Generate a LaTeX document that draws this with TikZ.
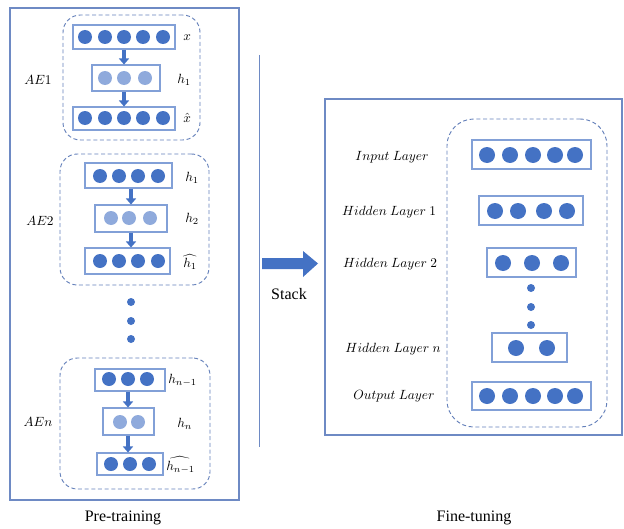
\documentclass[tikz,border=0pt]{standalone}
\usepackage{fontspec}
\setmainfont{Liberation Serif}
\usetikzlibrary{fit,arrows.meta}
\definecolor{dkblue}{RGB}{68,114,196}
\definecolor{ltblue}{RGB}{143,170,220}
\definecolor{boxblue}{RGB}{130,160,215}
\definecolor{outerblue}{RGB}{110,138,196}
\definecolor{dashblue}{RGB}{100,128,186}
\begin{document}
\begin{tikzpicture}[x=0.75pt,y=-0.75pt,
  dk/.style={circle,fill=dkblue,minimum size=10.5pt,inner sep=0pt},
  dkb/.style={circle,fill=dkblue,minimum size=12pt,inner sep=0pt},
  lt/.style={circle,fill=ltblue,minimum size=10.5pt,inner sep=0pt},
  sdot/.style={circle,fill=dkblue,minimum size=6pt,inner sep=0pt},
  lbox/.style={draw=boxblue,line width=0.8pt,inner sep=0pt},
  dbox/.style={draw=dashblue,dashed,dash pattern=on 3pt off 2pt,rounded corners=13pt,line width=0.7pt,inner sep=0pt},
  ebox/.style={draw=dashblue,dashed,dash pattern=on 3pt off 2pt,rounded corners=20pt,line width=0.7pt,inner sep=0pt},
  frame/.style={draw=outerblue,line width=0.8pt,inner sep=0pt},
  arr/.style={draw=dkblue,line width=3pt,-{Triangle[width=7.5pt,length=4.5pt]}},
  lab/.style={inner sep=0pt,anchor=west},
  rlab/.style={inner sep=0pt},
  captxt/.style={font=\fontsize{12}{14}\selectfont,inner sep=0pt}
]
\useasboundingbox (0,0) rectangle (624,528);

% ---------- Pre-training frame ----------
\node[frame,fit={(10,8) (239,500)}] (pre) {};

% ---------- AE1 ----------
\node[dbox,fit={(63,15) (200,140)}] (ae1) {};
\node[lbox,fit={(73,25) (175,49)}] (a1t) {};
\foreach \x [count=\i] in {85,105,124,143,163} \node[dk] (a1t\i) at (\x,37) {};
\node[lbox,fit={(92,65) (160,91)}] (a1m) {};
\foreach \x [count=\i] in {105,124,145} \node[lt] (a1m\i) at (\x,78) {};
\node[lbox,fit={(73,107) (175,130)}] (a1b) {};
\foreach \x [count=\i] in {85,105,124,143,163} \node[dk] (a1b\i) at (\x,118) {};
\draw[arr] (a1t.south) -- (a1t.south |- a1m.north);
\draw[arr] (a1t.south |- a1m.south) -- (a1b.north);
\node[lab] (l1t) at (183,38) {$x$};
\node[lab] (l1m) at (177,80) {$h_1$};
\node[lab] (l1b) at (183,118) {$\hat{x}$};
\node[rlab] (nae1) at (38,80) {$AE1$};

% ---------- AE2 ----------
\node[dbox,fit={(60,154) (209,285)}] (ae2) {};
\node[lbox,fit={(85,163) (172,188)}] (a2t) {};
\foreach \x [count=\i] in {100,119,138,158} \node[dk] (a2t\i) at (\x,176) {};
\node[lbox,fit={(95,205) (167,232)}] (a2m) {};
\foreach \x [count=\i] in {111,129,150} \node[lt] (a2m\i) at (\x,218) {};
\node[lbox,fit={(85,248) (170,274)}] (a2b) {};
\foreach \x [count=\i] in {100,119,138,158} \node[dk] (a2b\i) at (\x,261) {};
\draw[arr] (a2t.south -| a2m.north) -- (a2m.north);
\draw[arr] (a2m.south) -- (a2m.south |- a2b.north);
\node[lab] (l2t) at (185,178) {$h_1$};
\node[lab] (l2m) at (185,219) {$h_2$};
\node[lab] (l2b) at (183,262) {$\widehat{h_1}$};
\node[rlab] (nae2) at (40,221) {$AE2$};

% ---------- dots ----------
\node[sdot] (pd1) at (131,302) {};
\node[sdot] (pd2) at (131,321) {};
\node[sdot] (pd3) at (131,339) {};

% ---------- AEn ----------
\node[dbox,fit={(60,358) (210,489)}] (aen) {};
\node[lbox,fit={(95,369) (165,391)}] (ant) {};
\foreach \x [count=\i] in {109,128,147} \node[dk] (ant\i) at (\x,379) {};
\node[lbox,fit={(103,408) (154,435)}] (anm) {};
\foreach \x [count=\i] in {120,138} \node[lt] (anm\i) at (\x,422) {};
\node[lbox,fit={(97,453) (163,475)}] (anb) {};
\foreach \x [count=\i] in {111,130,149} \node[dk] (anb\i) at (\x,464) {};
\draw[arr] (ant.south -| 128,0) -- (anm.north -| 128,0);
\draw[arr] (anm.south -| 128,0) -- (anb.north -| 128,0);
\node[lab] (lnt) at (168,380) {$h_{n-1}$};
\node[lab] (lnm) at (177,424) {$h_n$};
\node[lab] (lnb) at (166,465) {$\widehat{h_{n-1}}$};
\node[rlab] (naen) at (38,422) {$AEn$};

\node[captxt] (pretxt) at (123,518) {Pre-training};

% ---------- separator and Stack ----------
\draw[draw=outerblue,line width=0.7pt] (259,55) -- (259,447);
\fill[dkblue] (262,258) -- (303,258) -- (303,251) -- (318,263.5) -- (303,277) -- (303,269) -- (262,269) -- cycle;
\node[captxt] (stacktxt) at (289,294) {Stack};

% ---------- Fine-tuning ----------
\node[frame,fit={(325,99) (622,435)}] (fine) {};
\node[ebox,fit={(447,119) (607,427)}] (net) {};
\node[lbox,fit={(472,140) (591,169)}] (in) {};
\foreach \x [count=\i] in {487,510,533,555,575} \node[dkb] (in\i) at (\x,155) {};
\node[lbox,fit={(479,196) (583,225)}] (hA) {};
\foreach \x [count=\i] in {495,518,544,567} \node[dkb] (hA\i) at (\x,211) {};
\node[lbox,fit={(487,248) (576,277)}] (hB) {};
\foreach \x [count=\i] in {503,532,561} \node[dkb] (hB\i) at (\x,263) {};
\node[sdot] (fd1) at (531,288) {};
\node[sdot] (fd2) at (531,307) {};
\node[sdot] (fd3) at (531,325) {};
\node[lbox,fit={(492,333) (567,362)}] (hN) {};
\foreach \x [count=\i] in {516,547} \node[dkb] (hN\i) at (\x,348) {};
\node[lbox,fit={(472,382) (591,410)}] (out) {};
\foreach \x [count=\i] in {487,510,533,555,575} \node[dkb] (out\i) at (\x,396) {};

\node[rlab] (lin) at (392,157) {$Input\ Layer$};
\node[rlab] (lhA) at (389,212) {$Hidden\ Layer\ 1$};
\node[rlab] (lhB) at (390,264) {$Hidden\ Layer\ 2$};
\node[rlab] (lhN) at (393,349) {$Hidden\ Layer\ n$};
\node[rlab] (lout) at (394,396) {$Output\ Layer$};

\node[captxt] (finetxt) at (474,518) {Fine-tuning};
\end{tikzpicture}
\end{document}
